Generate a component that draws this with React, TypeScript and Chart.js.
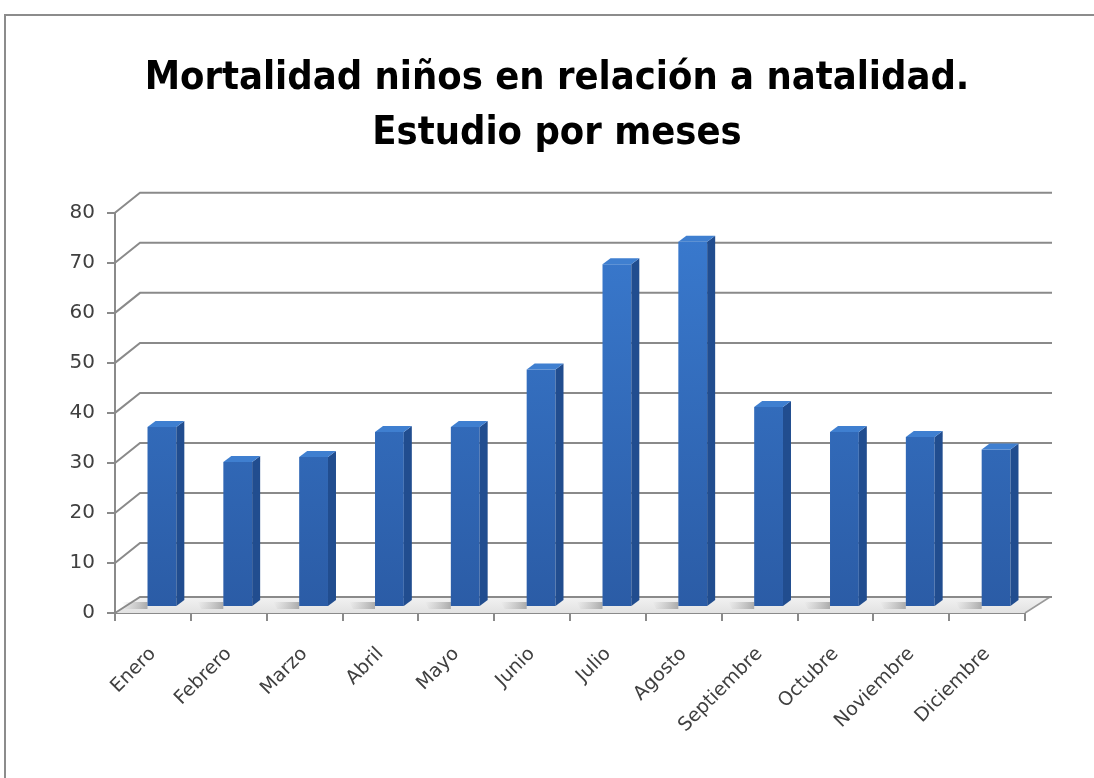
import React, { useEffect, useRef } from "react";
import { Chart, registerables } from "chart.js";

Chart.register(...registerables);

const titleLines = ["Mortalidad niños en relación a natalidad.", "Estudio por meses"];
const months = [
  "Enero", "Febrero", "Marzo", "Abril", "Mayo", "Junio",
  "Julio", "Agosto", "Septiembre", "Octubre", "Noviembre", "Diciembre",
];
const values = [36, 29, 30, 35, 36, 47.5, 68.5, 73, 40, 35, 34, 31.5];
const yTicks = [0, 10, 20, 30, 40, 50, 60, 70, 80];

const DX = 25; // back wall depth offset x
const DY = 20; // back wall depth offset y
const BSX = 9; // bar shift into depth
const BSY = 6;
const SIDE_X = 8;
const SIDE_Y = 6;

const wallPlugin = {
  id: "wall3d",
  beforeDatasetsDraw(chart: any) {
    const { ctx, chartArea, scales } = chart;
    const y = scales.y;
    const { left, right, bottom } = chartArea;
    ctx.save();
    // floor
    ctx.beginPath();
    ctx.moveTo(left, bottom);
    ctx.lineTo(right, bottom);
    ctx.lineTo(right + DX, bottom - DY + 4);
    ctx.lineTo(left + DX, bottom - DY + 4);
    ctx.closePath();
    const fg = ctx.createLinearGradient(0, bottom - DY, 0, bottom);
    fg.addColorStop(0, "#f6f6f6");
    fg.addColorStop(1, "#e2e2e2");
    ctx.fillStyle = fg;
    ctx.fill();
    ctx.strokeStyle = "#9a9a9a";
    ctx.lineWidth = 1.5;
    ctx.beginPath();
    ctx.moveTo(right, bottom);
    ctx.lineTo(right + DX, bottom - DY + 4);
    ctx.stroke();
    // back wall grid lines
    ctx.strokeStyle = "#8a8a8a";
    ctx.lineWidth = 2;
    yTicks.forEach((v) => {
      const py = y.getPixelForValue(v);
      const off = v === 0 ? 4 : 0;
      ctx.beginPath();
      ctx.moveTo(left, py);
      ctx.lineTo(left + DX, py - DY + off);
      ctx.lineTo(right + DX + 2, py - DY + off);
      ctx.stroke();
    });
    ctx.restore();
  },
  beforeDatasetDraw(chart: any, args: any) {
    const { ctx } = chart;
    ctx.save();
    ctx.translate(BSX, -BSY);
    // soft shadows on the floor, left of each bar
    const meta = chart.getDatasetMeta(args.index);
    meta.data.forEach((el: any) => {
      const { x, base, width } = el.getProps(["x", "base", "width"], true);
      const l = x - width / 2;
      const g = ctx.createLinearGradient(l - width * 0.9, 0, l, 0);
      g.addColorStop(0, "rgba(150,150,150,0)");
      g.addColorStop(1, "rgba(120,120,120,0.55)");
      ctx.fillStyle = g;
      ctx.beginPath();
      ctx.moveTo(l - width * 0.9, base - 4);
      ctx.lineTo(l, base - 4);
      ctx.lineTo(l, base + 3);
      ctx.lineTo(l - width * 0.9 + 4, base + 3);
      ctx.closePath();
      ctx.fill();
    });
  },
  afterDatasetDraw(chart: any, args: any) {
    const { ctx } = chart;
    const meta = chart.getDatasetMeta(args.index);
    meta.data.forEach((el: any) => {
      const { x, y, base, width } = el.getProps(["x", "y", "base", "width"], true);
      const r = x + width / 2;
      const l = x - width / 2;
      // side face
      ctx.beginPath();
      ctx.moveTo(r, y);
      ctx.lineTo(r + SIDE_X, y - SIDE_Y);
      ctx.lineTo(r + SIDE_X, base - SIDE_Y);
      ctx.lineTo(r, base);
      ctx.closePath();
      ctx.fillStyle = "#214d8f";
      ctx.fill();
      // top face
      ctx.beginPath();
      ctx.moveTo(l, y);
      ctx.lineTo(r, y);
      ctx.lineTo(r + SIDE_X, y - SIDE_Y);
      ctx.lineTo(l + SIDE_X, y - SIDE_Y);
      ctx.closePath();
      ctx.fillStyle = "#3f7fd0";
      ctx.fill();
    });
    ctx.restore();
  },
};

export default function App() {
  const ref = useRef<HTMLCanvasElement | null>(null);

  useEffect(() => {
    if (!ref.current) return;
    const chart = new Chart(ref.current, {
      type: "bar",
      data: {
        labels: months,
        datasets: [
          {
            data: values,
            backgroundColor: (c: any) => {
              const ch = c.chart;
              const area = ch.chartArea;
              if (!area) return "#326ab8";
              const g = ch.ctx.createLinearGradient(0, area.top, 0, area.bottom);
              g.addColorStop(0, "#3a7bd0");
              g.addColorStop(1, "#2b5ca6");
              return g;
            },
            borderWidth: 0,
            barPercentage: 0.38,
            categoryPercentage: 1,
          },
        ],
      },
      options: {
        animation: false,
        responsive: false,
        maintainAspectRatio: false,
        layout: { padding: { left: 20, right: 0, top: 0, bottom: 0 } },
        plugins: {
          legend: { display: false },
          tooltip: { enabled: false },
          title: {
            display: true,
            text: titleLines,
            color: "#000000",
            font: {
              family: '"Liberation Sans Narrow", "DejaVu Sans Condensed", "Open Sans", sans-serif',
              size: 39.5,
              weight: "bold",
              lineHeight: 1.39,
            },
            padding: { top: 51, bottom: 52 },
          },
        },
        scales: {
          x: {
            grid: {
              display: true,
              drawOnChartArea: false,
              drawTicks: true,
              tickLength: 8,
              color: "#8a8a8a",
              lineWidth: 2,
              offset: true,
            },
            border: { display: true, color: "#8a8a8a", width: 2 },
            ticks: {
              color: "#404040",
              font: { family: '"DejaVu Sans", sans-serif', size: 19 },
              minRotation: 45,
              maxRotation: 45,
              padding: 22,
              autoSkip: false,
            },
            afterFit: (s: any) => {
              s.height = 165;
            },
          },
          y: {
            min: 0,
            max: 80,
            ticks: {
              stepSize: 10,
              color: "#404040",
              font: { family: '"DejaVu Sans", sans-serif', size: 20 },
              padding: 12,
            },
            grid: {
              display: true,
              drawOnChartArea: false,
              drawTicks: true,
              tickLength: 8,
              color: "#8a8a8a",
              lineWidth: 2,
            },
            border: { display: true, color: "#8a8a8a", width: 2 },
            afterFit: (s: any) => {
              s.width = 95;
            },
          },
          spacer: {
            type: "linear",
            position: "right",
            display: true,
            grid: { display: false, drawTicks: false },
            border: { display: false },
            ticks: { display: false },
            afterFit: (s: any) => {
              s.width = 69;
            },
          },
        },
      },
      plugins: [wallPlugin],
    });
    return () => chart.destroy();
  }, []);

  return (
    <div style={{ position: "absolute", left: 0, top: 0, width: 1094, height: 778, background: "#ffffff", overflow: "hidden" }}>
      <div
        style={{
          position: "absolute",
          left: 4,
          top: 14,
          width: 1200,
          height: 900,
          borderTop: "2px solid #8c8c8c",
          borderLeft: "2px solid #8c8c8c",
        }}
      />
      <canvas ref={ref} width={1094} height={778} style={{ position: "absolute", left: 0, top: 0 }} />
    </div>
  );
}
